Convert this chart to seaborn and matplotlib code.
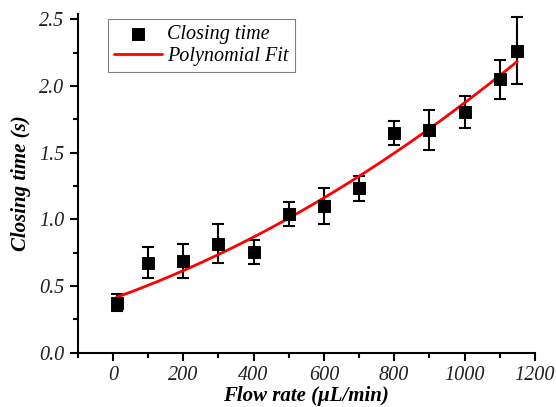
import matplotlib
matplotlib.use('Agg')
import matplotlib.pyplot as plt
from matplotlib.ticker import MultipleLocator
import numpy as np
import pandas as pd
import seaborn as sns

# measured closing times
flow_rate = [10, 100, 200, 300, 400, 500, 600, 700, 800, 900, 1000, 1100, 1150]
closing_time = [0.376, 0.677, 0.689, 0.818, 0.756, 1.037, 1.099, 1.233, 1.645, 1.67, 1.806, 2.05, 2.263]
closing_err = [0.062, 0.115, 0.13, 0.145, 0.09, 0.09, 0.135, 0.095, 0.09, 0.15, 0.12, 0.145, 0.25]

x_ticks = [0, 200, 400, 600, 800, 1000, 1200]
y_ticks = [0.0, 0.5, 1.0, 1.5, 2.0, 2.5]

sns.set_theme(style='ticks')
plt.rcParams['font.family'] = ['Liberation Serif', 'DejaVu Serif']
for key in ['text.color', 'axes.labelcolor', 'xtick.color', 'ytick.color', 'axes.edgecolor']:
    plt.rcParams[key] = 'black'

df = pd.DataFrame({'flow': flow_rate, 'time': closing_time, 'err': closing_err})

# second order polynomial fit, weighted by the error bars
coef = np.polyfit(df['flow'], df['time'], 2, w=1 / df['err'])
fit_x = np.linspace(min(flow_rate), max(flow_rate), 200)
fit_df = pd.DataFrame({'flow': fit_x, 'time': np.polyval(coef, fit_x)})

fig = plt.figure(figsize=(5.56, 4.07), dpi=100)
ax = fig.add_axes([0.140, 0.133, 0.822, 0.833])

ax.errorbar(df['flow'], df['time'], yerr=df['err'], fmt='none',
            ecolor='black', elinewidth=1.5, capsize=4, capthick=1.5, zorder=2)
sns.lineplot(data=fit_df, x='flow', y='time', color='red', linewidth=2,
             ax=ax, label='Polynomial Fit', zorder=3)
sns.scatterplot(data=df, x='flow', y='time', marker='s', s=70, color='black',
                edgecolor='black', ax=ax, label='Closing time', zorder=4)

ax.set_xlim(-100, 1200)
ax.set_ylim(0, 2.54)
ax.set_xticks(x_ticks)
ax.set_yticks(y_ticks)
ax.set_xticklabels([str(v) for v in x_ticks])
ax.set_yticklabels([f'{v:.1f}' for v in y_ticks])
ax.xaxis.set_minor_locator(MultipleLocator(100))
ax.yaxis.set_minor_locator(MultipleLocator(0.25))
ax.tick_params(which='major', direction='out', length=6, width=1.5, labelsize=14.5)
ax.tick_params(which='minor', direction='out', length=3.5, width=1.5)
for lbl in ax.get_xticklabels() + ax.get_yticklabels():
    lbl.set_fontstyle('italic')
    lbl.set_color('#222222')

for side in ['top', 'right']:
    ax.spines[side].set_visible(False)
for side in ['left', 'bottom']:
    ax.spines[side].set_linewidth(1.5)

ax.set_xlabel('Flow rate (μL/min)', fontsize=15, fontweight='bold', fontstyle='italic', labelpad=1)
ax.set_ylabel('Closing time (s)', fontsize=15, fontweight='bold', fontstyle='italic', labelpad=6)

handles, labels = ax.get_legend_handles_labels()
order = [labels.index('Closing time'), labels.index('Polynomial Fit')]
leg = ax.legend([handles[i] for i in order], [labels[i] for i in order],
                loc='upper left', bbox_to_anchor=(0.066, 0.985), fancybox=False,
                edgecolor='#808080', framealpha=1, prop={'style': 'italic', 'size': 14.5},
                borderpad=0.3, handlelength=2.4, handletextpad=0.25,
                labelspacing=0.15, borderaxespad=0)
leg.get_frame().set_linewidth(0.8)

fig.savefig('out.png', dpi=100)
